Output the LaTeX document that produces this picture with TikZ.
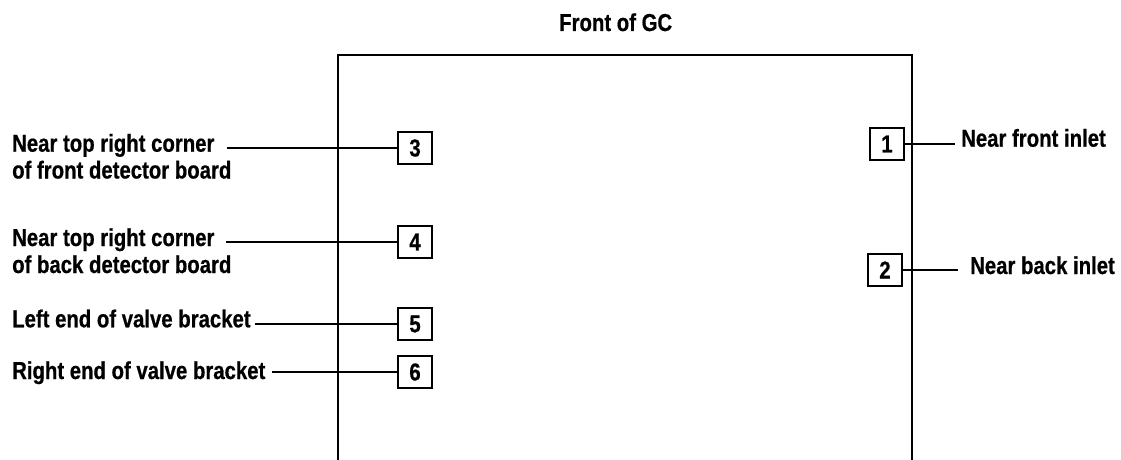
\documentclass[tikz,border=0pt]{standalone}
\usepackage{fontspec}
\setmainfont{Liberation Sans}[FakeStretch=0.83,BoldFeatures={FakeBold=0.6}]
\begin{document}
\begin{tikzpicture}[x=1pt,y=-1pt,
  lab/.style={anchor=base west,inner sep=0pt,font=\fontsize{24.5}{27}\selectfont\bfseries},
  numbox/.style={draw,line width=2pt,minimum width=34pt,minimum height=32pt,inner sep=0pt,font=\fontsize{24.5}{27}\selectfont\bfseries},
  conn/.style={line width=2pt},
  frame/.style={line width=2.2pt}]
\useasboundingbox (0,0) rectangle (1121,460);
% title
\node[lab] (title) at (559,31) {Front of GC};
% GC outline (open at bottom)
\coordinate (fbl) at (338,461);
\coordinate (ftl) at (338,55);
\coordinate (ftr) at (912,55);
\coordinate (fbr) at (912,461);
\draw[frame] (fbl) -- (ftl) -- (ftr) -- (fbr);
% numbered boxes
\node[numbox] (b1) at (887,144) {1};
\node[numbox] (b2) at (885,270) {2};
\node[numbox] (b3) at (415,148) {3};
\node[numbox] (b4) at (415,242) {4};
\node[numbox] (b5) at (415,324) {5};
\node[numbox] (b6) at (415,372) {6};
% left labels
\node[lab] (l3a) at (12,151.7) {Near top right corner};
\node[lab] (l3b) at (12,178.5) {of front detector board};
\node[lab] (l4a) at (12,246) {Near top right corner};
\node[lab] (l4b) at (12,273) {of back detector board};
\node[lab] (l5) at (12,327.3) {Left end of valve bracket};
\node[lab] (l6) at (12,379) {Right end of valve bracket};
% right labels
\node[lab] (l1) at (961,146.7) {Near front inlet};
\node[lab] (l2) at (970,274) {Near back inlet};
% connector ends
\coordinate (c3) at (227,148);
\coordinate (c4) at (226,242);
\coordinate (c5) at (255,324);
\coordinate (c6) at (272,372);
\coordinate (c1) at (955,144);
\coordinate (c2) at (958,270);
\draw[conn] (c3) -- (b3.west);
\draw[conn] (c4) -- (b4.west);
\draw[conn] (c5) -- (b5.west);
\draw[conn] (c6) -- (b6.west);
\draw[conn] (b1.east) -- (c1);
\draw[conn] (b2.east) -- (c2);
\end{tikzpicture}
\end{document}
